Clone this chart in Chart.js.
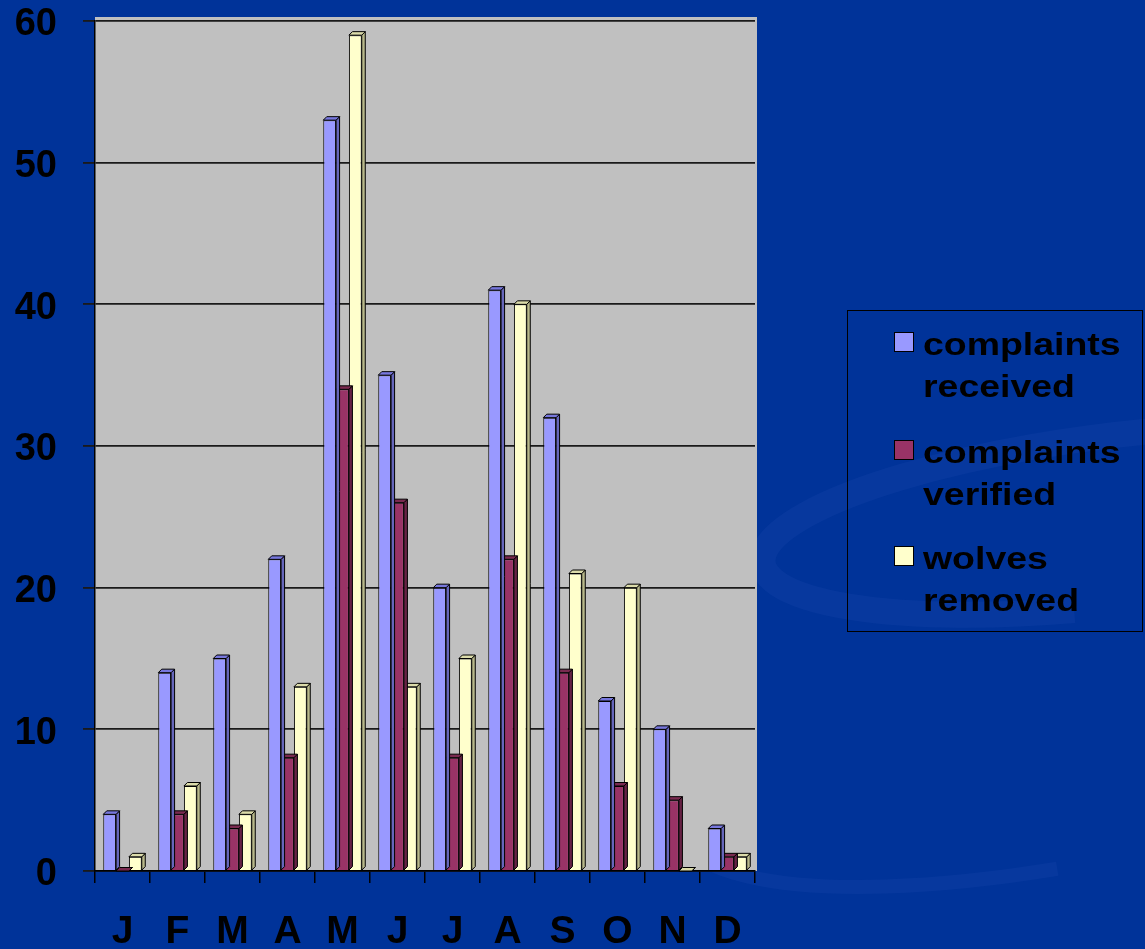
<!DOCTYPE html>
<html>
<head>
<meta charset="utf-8">
<script src="https://cdn.jsdelivr.net/npm/chart.js@4/dist/chart.umd.min.js"></script>
<style>
  body { margin: 0; background: #003399; }
  #wrap { position: relative; width: 1145px; height: 949px; overflow: hidden; }
  #legend {
    position: absolute; left: 847px; top: 310px; width: 294px; height: 320px;
    border: 1.5px solid #000; font-family: "Liberation Sans", Arial, sans-serif;
    font-weight: bold; font-size: 32px; color: #000;
  }
  .item { position: absolute; left: 46px; }
  .sw { position: absolute; left: 0; top: 9px; width: 18px; height: 18px; border: 1.5px solid #000; }
  .txt { position: absolute; left: 29px; top: 0; line-height: 42px; white-space: nowrap;
         transform: scaleX(1.17); transform-origin: left top; }
</style>
</head>
<body>
<div id="wrap">
  <canvas id="wolfChart" width="1145" height="949"></canvas>
  <div id="legend"></div>
</div>
<script>
const months = ['J', 'F', 'M', 'A', 'M', 'J', 'J', 'A', 'S', 'O', 'N', 'D'];
const received = [4, 14, 15, 22, 53, 35, 20, 41, 32, 12, 10, 3];
const verified = [0, 4, 3, 8, 34, 26, 8, 22, 14, 6, 5, 1];
const removed = [1, 6, 4, 13, 59, 13, 15, 40, 21, 20, 0, 1];
const seriesNames = [['complaints', 'received'], ['complaints', 'verified'], ['wolves', 'removed']];
const yTicks = [0, 10, 20, 30, 40, 50, 60];

const fronts = ['#9999ff', '#993366', '#ffffcc'];
const sides = ['#6666bb', '#662244', '#b8b88a'];
const tops = ['#7777dd', '#7a2a50', '#dcdcaa'];

// background + gray wall
const backdrop = {
  id: 'backdrop',
  beforeDraw(chart) {
    const ctx = chart.ctx;
    const a = chart.chartArea;
    ctx.save();
    ctx.fillStyle = '#003399';
    ctx.fillRect(0, 0, chart.width, chart.height);
    ctx.globalAlpha = 0.12;
    ctx.strokeStyle = '#3a62c8';
    ctx.lineWidth = 26;
    ctx.beginPath();
    ctx.ellipse(1120, 520, 360, 85, -0.12, Math.PI * 0.55, Math.PI * 1.6);
    ctx.stroke();
    ctx.lineWidth = 14;
    ctx.beginPath();
    ctx.ellipse(1180, 700, 520, 140, -0.25, Math.PI * 0.6, Math.PI * 1.1);
    ctx.stroke();
    ctx.globalAlpha = 1;
    ctx.fillStyle = '#c0c0c0';
    ctx.fillRect(a.left, a.top - 4, a.right - a.left + 2, a.bottom - a.top + 4);
    ctx.restore();
  }
};

// fake 3D: side and top faces, drawn after each dataset so the next series covers it
const bar3d = {
  id: 'bar3d',
  afterDatasetDraw(chart, args) {
    const ctx = chart.ctx;
    const i = args.index;
    const d = 3.5;
    ctx.save();
    ctx.lineWidth = 1;
    ctx.strokeStyle = '#000';
    args.meta.data.forEach(bar => {
      const p = bar.getProps(['x', 'y', 'base', 'width'], true);
      const l = p.x - p.width / 2, r = p.x + p.width / 2;
      ctx.fillStyle = sides[i];
      ctx.beginPath();
      ctx.moveTo(r, p.y); ctx.lineTo(r + d, p.y - d); ctx.lineTo(r + d, p.base - d); ctx.lineTo(r, p.base);
      ctx.closePath(); ctx.fill(); ctx.stroke();
      ctx.fillStyle = tops[i];
      ctx.beginPath();
      ctx.moveTo(l, p.y); ctx.lineTo(l + d, p.y - d); ctx.lineTo(r + d, p.y - d); ctx.lineTo(r, p.y);
      ctx.closePath(); ctx.fill(); ctx.stroke();
    });
    ctx.restore();
  }
};

const sets = [received, verified, removed].map((vals, i) => ({
  label: seriesNames[i].join(' '),
  data: vals,
  backgroundColor: fronts[i],
  borderColor: '#000',
  borderWidth: 1,
  categoryPercentage: 0.7,
  barPercentage: 1.0
}));

new Chart(document.getElementById('wolfChart'), {
  type: 'bar',
  data: { labels: months, datasets: sets },
  plugins: [backdrop, bar3d],
  options: {
    responsive: false,
    animation: false,
    layout: { padding: { top: 21, right: 390, left: 0, bottom: 0 } },
    plugins: { legend: { display: false }, tooltip: { enabled: false } },
    scales: {
      x: {
        afterFit: s => { s.height = 78; s.paddingLeft = 0; s.paddingRight = 0; },
        grid: { drawOnChartArea: false, offset: true, tickLength: 12, color: '#000', lineWidth: 1.5 },
        border: { color: '#000', width: 1.5 },
        ticks: { color: '#000', padding: 30, font: { family: 'Liberation Sans', size: 39, weight: 'bold', lineHeight: 1 } }
      },
      y: {
        min: 0, max: 60,
        afterFit: s => { s.width = 95; s.paddingTop = 0; s.paddingBottom = 0; },
        afterBuildTicks: s => { s.ticks = yTicks.map(v => ({ value: v })); },
        grid: { color: '#1a1a1a', lineWidth: 1.8, tickLength: 12 },
        border: { color: '#000', width: 1.5 },
        ticks: { color: '#000', padding: 26, labelOffset: 4, font: { family: 'Liberation Sans', size: 38, weight: 'bold', lineHeight: 1 } }
      }
    }
  }
});

// legend
const legend = document.getElementById('legend');
const itemTops = [12, 120, 226];
seriesNames.forEach((lines, i) => {
  const item = document.createElement('div');
  item.className = 'item';
  item.style.top = itemTops[i] + 'px';
  item.innerHTML = '<div class="sw" style="background:' + fronts[i] + '"></div>' +
    '<div class="txt">' + lines.join('<br>') + '</div>';
  legend.appendChild(item);
});
</script>
</body>
</html>
